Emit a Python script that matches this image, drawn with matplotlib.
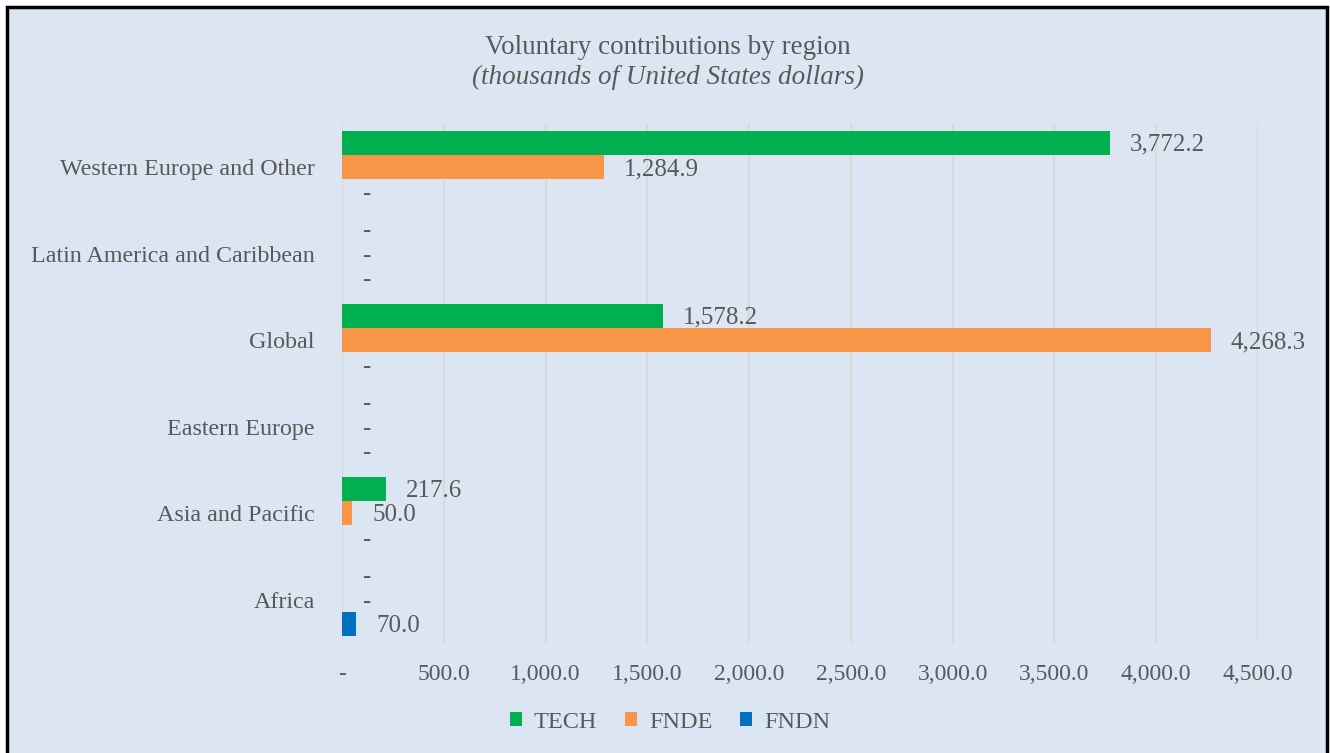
import matplotlib.pyplot as plt
import matplotlib.patches as mpatches
import numpy as np

# Données
regions = ['Africa', 'Asia and Pacific', 'Eastern Europe', 'Global',
           'Latin America and Caribbean', 'Western Europe and Other']
tech = [0, 217.6, 0, 1578.2, 0, 3772.2]
fnde = [0, 50.0, 0, 4268.3, 0, 1284.9]
fndn = [70.0, 0, 0, 0, 0, 0]
series = ['TECH', 'FNDE', 'FNDN']
couleurs = ['#00B050', '#F79646', '#0070C0']
xticks = [0, 500, 1000, 1500, 2000, 2500, 3000, 3500, 4000, 4500]

fond = '#DCE6F2'
gris = '#595959'
plt.rcParams['font.family'] = ['Liberation Serif', 'DejaVu Serif']

fig = plt.figure(figsize=(13.3, 7.53), dpi=100)
fig.patch.set_facecolor('white')
# cadre du graphique
cadre = mpatches.Rectangle((7/1330, -0.1), (1327-7)/1330, 1.1 - 7/753,
                           transform=fig.transFigure, facecolor=fond,
                           edgecolor='black', linewidth=2.5, zorder=-1)
fig.patches.append(cadre)

ax = fig.add_axes([342/1330, 1 - 643/753, (1258-342)/1330, (643-124)/753])
ax.set_facecolor(fond)

y = np.arange(len(regions))
h = 0.283
decalages = [h, 0, -h]
donnees = [tech, fnde, fndn]
for vals, d, c, nom in zip(donnees, decalages, couleurs, series):
    ax.barh(y + d, vals, height=h, color=c, label=nom, zorder=3)
    for yi, v in zip(y, vals):
        txt = '-' if v == 0 else f'{v:,.1f}'
        ax.annotate(txt, (v, yi + d), xytext=(20 if v else 24, -2),
                    textcoords='offset pixels',
                    va='center', ha='left' if v else 'center',
                    fontsize=18, color=gris)

ax.set_xlim(0, 4500)
ax.set_ylim(-0.5, 5.5)
ax.set_xticks(xticks)
ax.set_xticklabels(['-' if t == 0 else f'{t:,.1f}' for t in xticks])
ax.set_yticks(y)
ax.set_yticklabels(regions)
ax.tick_params(axis='both', length=0, labelcolor=gris)
ax.tick_params(axis='x', pad=15, labelsize=17)
ax.tick_params(axis='y', pad=19.5, labelsize=17.3)
ax.grid(axis='x', color='#D9D9D9', linewidth=1.5, zorder=0)
for s in ax.spines.values():
    s.set_visible(False)

fig.text(668/1330, 1 - 47/753, 'Voluntary contributions by region',
         ha='center', va='center', fontsize=19.5, color=gris)
fig.text(668/1330, 1 - 77/753, '(thousands of United States dollars)',
         ha='center', va='center', fontsize=19.5, color=gris, style='italic')

fig.legend(loc='center', bbox_to_anchor=(670/1330, 1 - 722/753), ncol=3,
           frameon=False, fontsize=17.5, labelcolor=gris, handlelength=0.49,
           handleheight=0.49, columnspacing=1.15, handletextpad=0.49)

fig.savefig('out.png', dpi=100, facecolor=fig.get_facecolor())
